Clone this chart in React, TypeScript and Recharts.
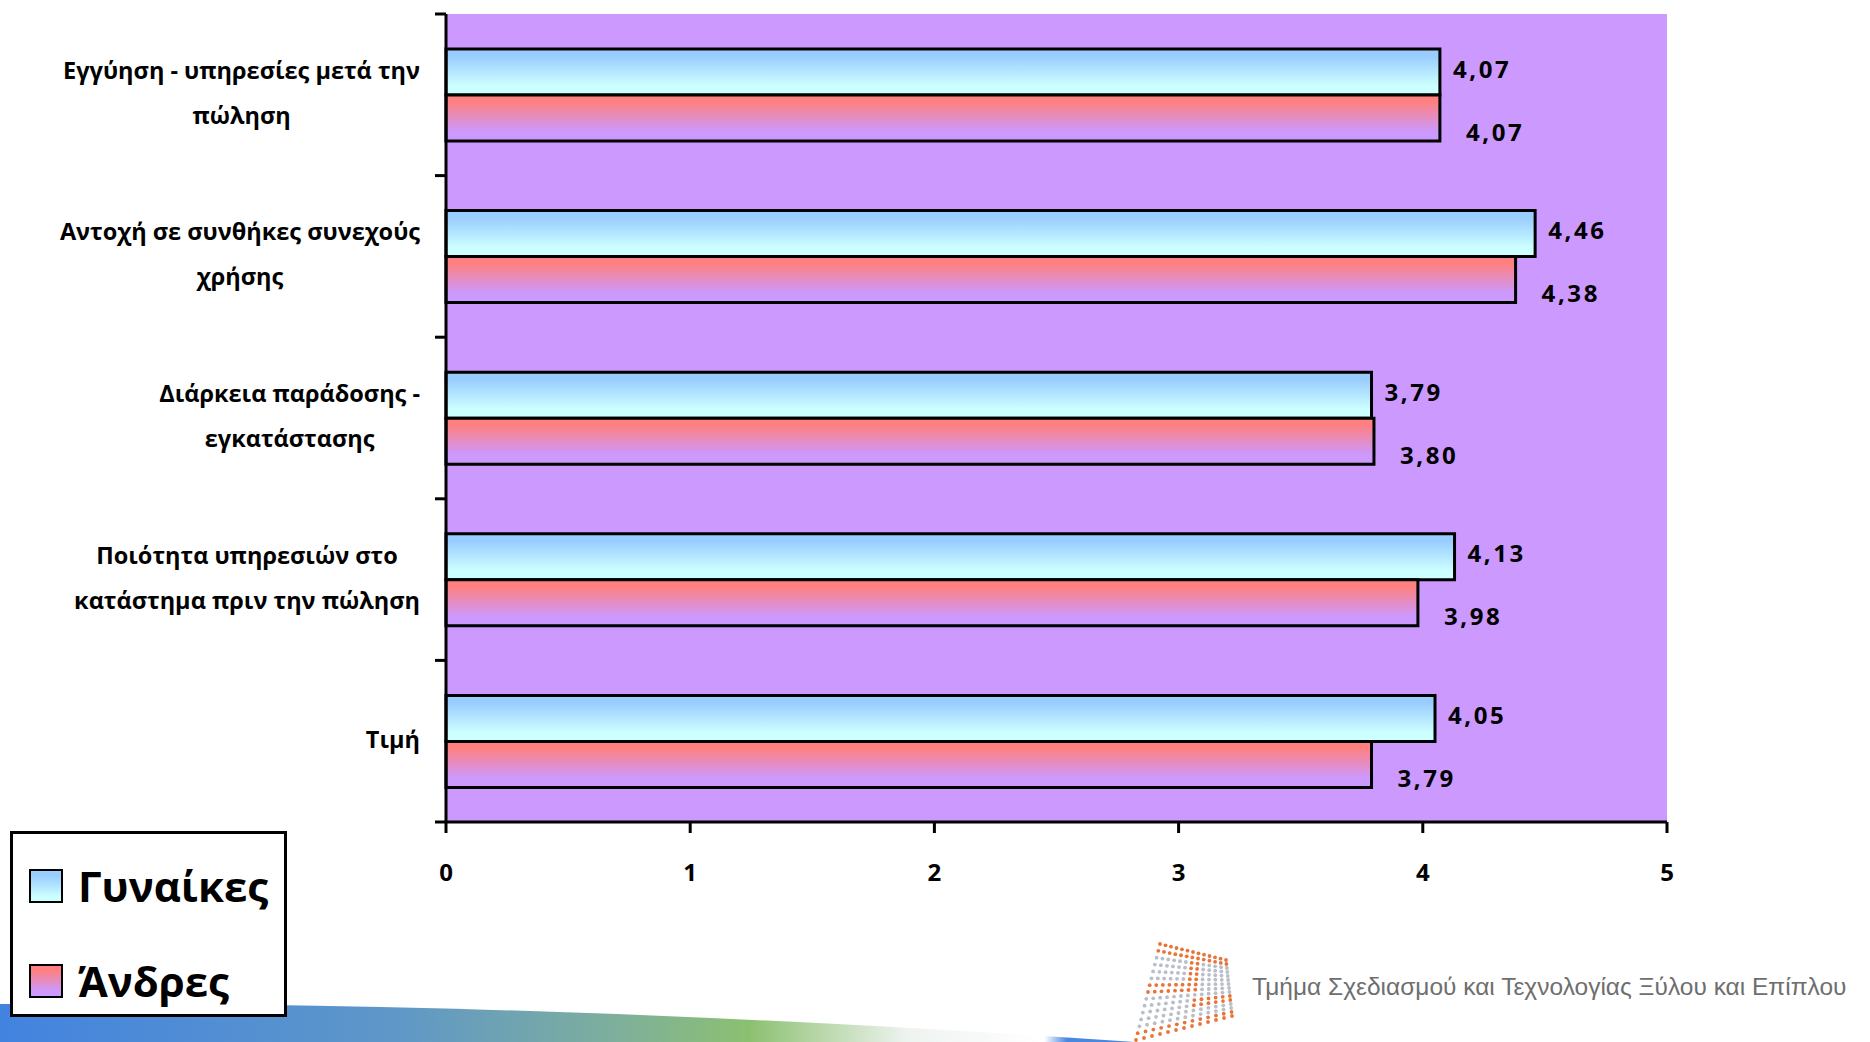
import React from 'react';
import { BarChart, Bar, XAxis, YAxis, CartesianGrid, LabelList, Legend } from 'recharts';

// Survey: mean rating per purchase factor, by gender
const categories = [
  'Εγγύηση - υπηρεσίες μετά την\nπώληση',
  'Αντοχή σε συνθήκες συνεχούς\nχρήσης',
  'Διάρκεια παράδοσης -\nεγκατάστασης',
  'Ποιότητα υπηρεσιών στο\nκατάστημα πριν την πώληση',
  'Τιμή',
];
const women = [4.07, 4.46, 3.79, 4.13, 4.05];
const men = [4.07, 4.38, 3.8, 3.98, 3.79];
const xTicks = [0, 1, 2, 3, 4, 5];
const seriesNames = ['Γυναίκες', 'Άνδρες'];
const footerText = 'Τμήμα Σχεδιασμού και Τεχνολογίας Ξύλου και Επίπλου';

const data = categories.map((name, i) => ({ name, women: women[i], men: men[i] }));

const W = 1870;
const H = 1042;
const PLOT_LEFT = 446;
const PLOT_RIGHT = 1667;
const PLOT_TOP = 14;
const PLOT_BOTTOM = 822;
const X_AXIS_H = 60;
const BAND = (PLOT_BOTTOM - PLOT_TOP) / categories.length;
const LABEL_RIGHT = 420;
const LINE_H = 45;

const FONT = "'Open Sans', 'DejaVu Sans', sans-serif";
const CAT_FONT_SIZE = 23.5;

let measureCtx: CanvasRenderingContext2D | null = null;
function measure(text: string, size: number): number {
  if (!measureCtx) {
    const c = document.createElement('canvas');
    measureCtx = c.getContext('2d');
  }
  if (!measureCtx) return text.length * size * 0.6;
  measureCtx.font = `700 ${size}px ${FONT}`;
  return measureCtx.measureText(text).width;
}

const fmt = (v: number) => v.toFixed(2).replace('.', ',');

function CategoryTick(props: any) {
  const { payload, index } = props;
  const y = payload.coordinate ?? props.y;
  const lines = String(payload.value).split('\n');
  const blockW = Math.max(...lines.map((l) => measure(l, CAT_FONT_SIZE)));
  const cx = LABEL_RIGHT - blockW / 2;
  const n = lines.length;
  return (
    <g>
      <line x1={PLOT_LEFT - 11} x2={PLOT_LEFT} y1={y - BAND / 2} y2={y - BAND / 2} stroke="#000" strokeWidth={3} />
      {index === categories.length - 1 && (
        <line x1={PLOT_LEFT - 11} x2={PLOT_LEFT} y1={y + BAND / 2} y2={y + BAND / 2} stroke="#000" strokeWidth={3} />
      )}
      <text textAnchor="middle" fontFamily={FONT} fontWeight={700} fontSize={CAT_FONT_SIZE} fill="#000">
        {lines.map((l, i) => (
          <tspan key={i} x={cx} y={y + (i - (n - 1) / 2) * LINE_H - 2} dy="0.36em">
            {l}
          </tspan>
        ))}
      </text>
    </g>
  );
}

function ValueTick(props: any) {
  const { x, payload } = props;
  return (
    <text x={x} y={PLOT_BOTTOM + 50} dy="0.36em" textAnchor="middle" fontFamily={FONT} fontWeight={700} fontSize={24} fill="#000">
      {payload.value}
    </text>
  );
}

const makeLabel = (dx: number, dy: number) => (p: any) => {
  const { x, y, width, height, value } = p;
  return (
    <text
      x={Number(x) + Number(width) + dx}
      y={Number(y) + Number(height) / 2 + dy}
      dy="0.36em"
      fontFamily={FONT}
      fontWeight={700}
      fontSize={24}
      letterSpacing={2.6}
      fill="#000"
    >
      {fmt(Number(value))}
    </text>
  );
};

const swatchBlue = 'linear-gradient(to bottom, #99CCFF 0%, #99CCFF 15%, #CCFFFF 85%, #CCFFFF 100%)';
const swatchRed = 'linear-gradient(to bottom, #FF8080 0%, #FF8080 15%, #CC99FF 85%, #CC99FF 100%)';

function LegendBox() {
  const item = (label: string, bg: string, top: number) => (
    <div style={{ position: 'absolute', left: 16, top, display: 'flex', alignItems: 'center' }}>
      <div style={{ width: 30, height: 30, background: bg, border: '2px solid #000', boxSizing: 'content-box' }} />
      <span style={{ marginLeft: 15, fontFamily: FONT, fontWeight: 700, fontSize: 42, lineHeight: '44px', color: '#000' }}>{label}</span>
    </div>
  );
  return (
    <div style={{ position: 'relative', width: 271, height: 180, border: '3px solid #000', background: '#fff' }}>
      {item(seriesNames[0], swatchBlue, 30)}
      {item(seriesNames[1], swatchRed, 125)}
    </div>
  );
}

// Decorative logo: a warped grid of dots
function Logo() {
  const rows = 15;
  const cols = 13;
  const tl = [1160, 944];
  const tr = [1226, 960];
  const bl = [1136, 1040];
  const br = [1232, 1016];
  const dots: React.ReactNode[] = [];
  for (let r = 0; r < rows; r++) {
    for (let c = 0; c < cols; c++) {
      const u = c / (cols - 1);
      const v = r / (rows - 1);
      const x = (1 - v) * ((1 - u) * tl[0] + u * tr[0]) + v * ((1 - u) * bl[0] + u * br[0]);
      const y = (1 - v) * ((1 - u) * tl[1] + u * tr[1]) + v * ((1 - u) * bl[1] + u * br[1]);
      const orange =
        r < 2 || r > rows - 3 || (r >= 6 && r <= 7 && c < 7) || (c >= 6 && c <= 7 && r < 8) || (r >= 9 && r <= 10 && c > 6);
      dots.push(<circle key={`${r}-${c}`} cx={x} cy={y} r={1.9} fill={orange ? '#E8743A' : '#B9BEC8'} />);
    }
  }
  return <g>{dots}</g>;
}

export default function App() {
  return (
    <div style={{ position: 'fixed', left: 0, top: 0, width: W, height: H, background: '#fff', overflow: 'hidden' }}>
      <svg width={W} height={H} style={{ position: 'absolute', left: 0, top: 0 }}>
        <defs>
          <linearGradient id="swoosh" x1="0" y1="0" x2="1" y2="0">
            <stop offset="0" stopColor="#4283E0" />
            <stop offset="0.35" stopColor="#5F97C8" />
            <stop offset="0.55" stopColor="#7FB09A" />
            <stop offset="0.66" stopColor="#8CC070" />
            <stop offset="0.8" stopColor="#EEF3F0" />
            <stop offset="0.92" stopColor="#FFFFFF" />
            <stop offset="0.94" stopColor="#4A88E0" />
            <stop offset="1" stopColor="#4A88E0" />
          </linearGradient>
        </defs>
        <path d="M0,1042 L0,1004 Q 520,1000 1135,1042 Z" fill="url(#swoosh)" />
        <Logo />
        <text
          x={1252}
          y={986}
          dy="0.36em"
          fontFamily="'Liberation Sans Narrow', 'Liberation Sans', sans-serif"
          fontSize={24.5}
          fill="#6E6E6E"
        >
          {footerText}
        </text>
      </svg>
      <div style={{ position: 'absolute', left: 0, top: 0 }}>
        <BarChart
          width={W}
          height={H}
          data={data}
          layout="vertical"
          margin={{ top: PLOT_TOP, right: W - PLOT_RIGHT, left: 0, bottom: H - PLOT_BOTTOM - X_AXIS_H }}
          barSize={46}
          barGap={0}
        >
          <defs>
            <linearGradient id="gradWomen" x1="0" y1="0" x2="0" y2="1">
              <stop offset="0" stopColor="#99CCFF" />
              <stop offset="0.15" stopColor="#99CCFF" />
              <stop offset="0.8" stopColor="#CCFFFF" />
              <stop offset="1" stopColor="#CCFFFF" />
            </linearGradient>
            <linearGradient id="gradMen" x1="0" y1="0" x2="0" y2="1">
              <stop offset="0" stopColor="#FF8080" />
              <stop offset="0.15" stopColor="#FF8080" />
              <stop offset="0.8" stopColor="#CC99FF" />
              <stop offset="1" stopColor="#CC99FF" />
            </linearGradient>
          </defs>
          <CartesianGrid fill="#CC99FF" stroke="none" horizontal={false} vertical={false} />
          <XAxis
            type="number"
            domain={[0, 5]}
            ticks={xTicks}
            interval={0}
            height={X_AXIS_H}
            axisLine={{ stroke: '#000', strokeWidth: 3 }}
            tickLine={{ stroke: '#000', strokeWidth: 3 }}
            tickSize={11}
            tick={<ValueTick />}
          />
          <YAxis
            type="category"
            dataKey="name"
            width={PLOT_LEFT}
            interval={0}
            axisLine={{ stroke: '#000', strokeWidth: 3 }}
            tickLine={false}
            tick={<CategoryTick />}
          />
          <Legend
            layout="vertical"
            align="center"
            verticalAlign="middle"
            wrapperStyle={{ left: 10, top: 831, width: 277, height: 186 }}
            content={() => <LegendBox />}
          />
          <Bar dataKey="women" name={seriesNames[0]} fill="url(#gradWomen)" stroke="#000" strokeWidth={3} isAnimationActive={false}>
            <LabelList dataKey="women" content={makeLabel(13, -3)} />
          </Bar>
          <Bar dataKey="men" name={seriesNames[1]} fill="url(#gradMen)" stroke="#000" strokeWidth={3} isAnimationActive={false}>
            <LabelList dataKey="men" content={makeLabel(26, 14)} />
          </Bar>
        </BarChart>
      </div>
    </div>
  );
}
